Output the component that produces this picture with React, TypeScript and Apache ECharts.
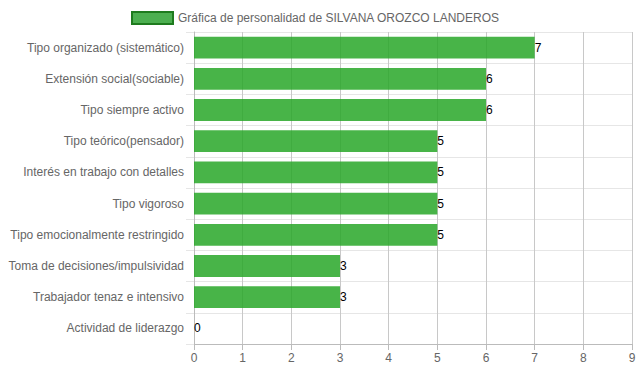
import React, { useEffect, useRef } from "react";
import * as echarts from "echarts";

const categories = [
  "Tipo organizado (sistemático)",
  "Extensión social(sociable)",
  "Tipo siempre activo",
  "Tipo teórico(pensador)",
  "Interés en trabajo con detalles",
  "Tipo vigoroso",
  "Tipo emocionalmente restringido",
  "Toma de decisiones/impulsividad",
  "Trabajador tenaz e intensivo",
  "Actividad de liderazgo",
];
const values = [7, 6, 6, 5, 5, 5, 5, 3, 3, 0];
const seriesName = "Gráfica de personalidad de SILVANA OROZCO LANDEROS";

export default function App() {
  const ref = useRef<HTMLDivElement>(null);
  useEffect(() => {
    const chart = echarts.init(ref.current!, null, { renderer: "svg" });
    const font = "'Liberation Sans', Arial, Helvetica, sans-serif";
    chart.setOption({
      animation: false,
      textStyle: { fontFamily: font },
      legend: {
        top: 6,
        left: 126,
        padding: 5,
        itemWidth: 41,
        itemHeight: 12,
        icon: "rect",
        textStyle: { color: "#666", fontSize: 12, fontFamily: font },
        itemStyle: { color: "#4CAF50", borderColor: "#1E7B1E", borderWidth: 2 },
        data: [seriesName],
      },
      grid: { left: 194, right: 7, top: 32, bottom: 28, containLabel: false },
      xAxis: {
        type: "value",
        min: 0,
        max: 9,
        interval: 1,
        axisLine: { show: true, lineStyle: { color: "#bbb" } },
        axisTick: { show: true, length: 6, lineStyle: { color: "#bbb" } },
        axisLabel: { color: "#666", fontSize: 12, margin: 8, fontFamily: font },
        splitLine: { show: true, lineStyle: { color: "#c8c8c8" } },
      },
      yAxis: {
        type: "category",
        inverse: true,
        data: categories,
        axisLine: { show: true, lineStyle: { color: "#bbb" } },
        axisTick: { show: true, length: 8, lineStyle: { color: "#e6e6e6" } },
        axisLabel: { color: "#666", fontSize: 12, margin: 10, fontFamily: font },
        splitLine: { show: true, lineStyle: { color: "#e6e6e6" } },
      },
      series: [
        {
          name: seriesName,
          type: "bar",
          data: values,
          barCategoryGap: "30%",
          itemStyle: { color: "rgba(40,167,40,0.85)" },
          label: {
            show: true,
            position: "right",
            distance: 0,
            color: "#000",
            fontSize: 12,
            fontFamily: font,
          },
        },
      ],
    });
    return () => chart.dispose();
  }, []);
  return <div ref={ref} style={{ width: 639, height: 372, position: "absolute", left: 0, top: 0 }} />;
}
